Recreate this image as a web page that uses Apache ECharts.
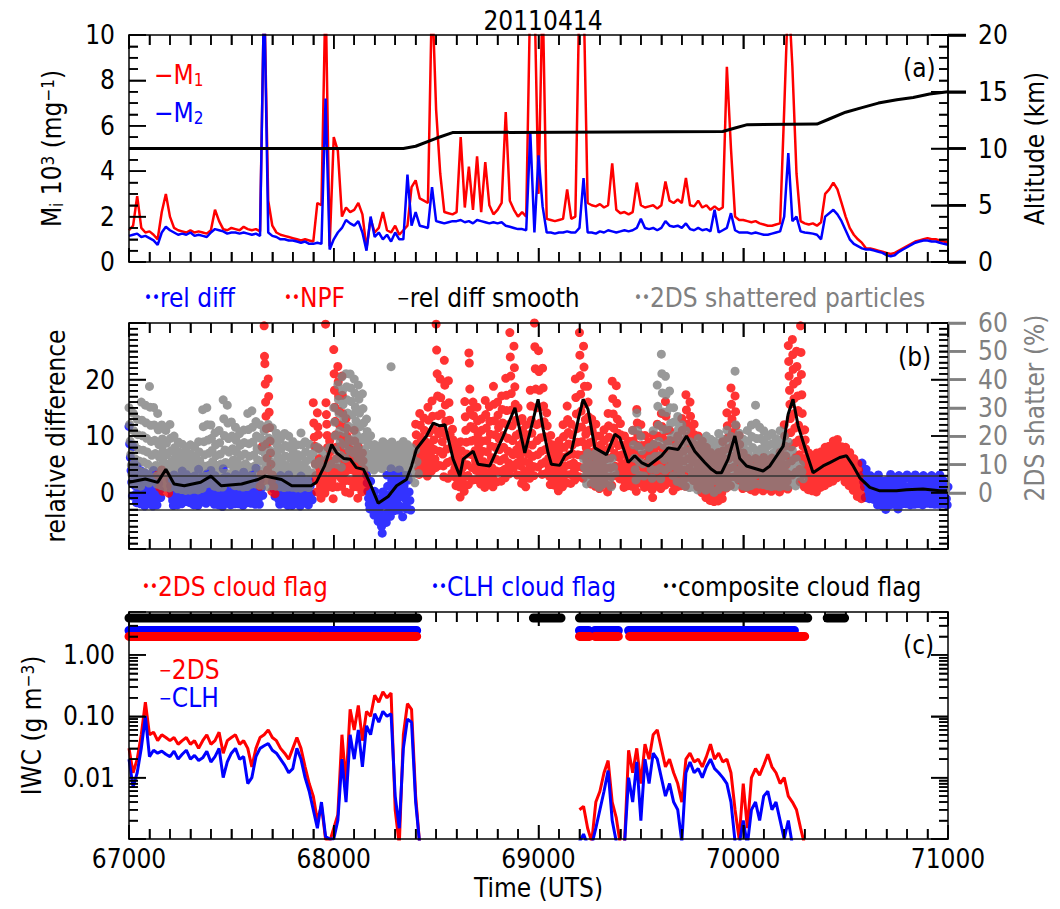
<!DOCTYPE html>
<html><head><meta charset="utf-8">
<script src="https://cdn.jsdelivr.net/npm/echarts@6/dist/echarts.min.js"></script>
<style>html,body{margin:0;padding:0;background:#fff}#c{width:1060px;height:909px}</style>
</head><body><div id="c"></div><script>
// ---------------- DATA ----------------
const titleText = '20110414';
const T0 = 67000, DT = 20;
const timeTicks = [67000, 68000, 69000, 70000, 71000];
const mTicks = [0, 2, 4, 6, 8, 10];
const altTicks = [0, 5, 10, 15, 20];
const relTicks = [0, 10, 20];
const relMajorTicks = [-10, 0, 10, 20, 30];
const shatterTicks = [0, 10, 20, 30, 40, 50, 60];
const iwcMajorTicks = [0.001, 0.01, 0.1, 1];
const iwcMinorTicks = [0.002,0.003,0.004,0.005,0.006,0.007,0.008,0.009,0.02,0.03,0.04,0.05,0.06,0.07,0.08,0.09,0.2,0.3,0.4,0.5,0.6,0.7,0.8,0.9,2,3,4];

const m1 = [1.4,1.6,2.9,1.5,1.3,1.35,1.2,1.0,2.2,3.0,2.0,1.5,1.4,1.35,1.3,1.4,1.3,1.35,1.3,1.25,
1.4,2.3,1.8,1.45,1.4,1.5,1.45,1.4,1.55,1.45,1.4,1.45,1.35,12,2.7,1.6,1.3,1.2,1.15,1.1,
1.05,1.0,0.95,1.0,0.95,0.9,2.6,2.5,12,0.7,5.5,4.9,2.0,2.4,2.2,2.3,2.6,2.1,0.6,1.9,
1.3,1.5,2.2,1.4,1.3,1.6,1.2,1.4,1.6,3.3,3.6,2.8,2.7,2.6,12,6.7,3.9,2.2,2.15,2.1,
2.2,5.5,2.4,4.2,2.3,4.65,2.2,4.4,2.5,2.1,2.3,2.6,6.6,2.7,2.3,2.0,2.2,2.0,12,12,
3.0,12,1.9,1.85,1.8,1.85,1.9,3.2,1.9,2.0,12,12,2.6,2.5,2.45,2.55,2.4,2.5,4.35,2.3,
2.15,2.2,2.1,2.2,3.5,2.5,2.4,2.45,2.5,2.35,2.5,3.55,2.7,2.6,2.75,2.6,3.7,2.5,2.45,2.7,
2.4,2.5,2.3,2.45,2.3,2.4,8.6,5.0,2.0,1.85,1.85,1.8,1.75,1.8,1.7,1.65,1.6,1.6,1.65,1.7,
6.7,12,8.6,3.9,1.8,1.7,1.65,1.7,1.6,1.75,3.0,3.2,3.5,3.2,2.6,2.0,1.5,1.2,1.0,0.84,
0.6,0.6,0.55,0.5,0.45,0.4,0.35,0.4,0.5,0.6,0.7,0.8,0.9,0.95,1.0,1.05,1.0,1.0,0.95,0.9,0.85];
const m2 = [1.15,1.2,1.25,1.1,1.15,1.05,0.95,0.75,1.3,1.55,1.4,1.3,1.2,1.25,1.2,1.3,1.15,1.2,1.15,1.1,
1.3,1.45,1.4,1.35,1.25,1.3,1.3,1.25,1.3,1.25,1.2,1.25,1.15,12,1.3,1.15,1.1,1.0,1.0,0.95,
0.95,0.9,0.85,0.9,0.8,0.8,0.85,0.8,7.2,0.55,1.0,1.3,1.5,1.85,1.7,1.6,1.8,1.3,0.5,2.0,
1.1,1.3,1.0,1.2,0.9,1.3,1.0,1.0,3.85,1.6,2.2,1.6,1.55,1.5,3.3,1.8,1.75,1.7,1.75,1.8,
1.8,1.85,1.75,1.8,1.7,1.85,1.8,1.75,1.7,1.75,1.7,1.75,1.6,1.55,1.5,1.45,1.45,1.4,5.7,1.3,
4.7,2.45,1.3,1.3,1.25,1.3,1.3,1.35,1.3,1.3,1.5,3.7,1.3,1.3,1.25,1.35,1.3,1.4,1.35,1.3,
1.35,1.4,1.35,1.4,1.5,1.9,1.5,1.45,1.5,1.4,1.5,1.8,1.6,1.55,1.6,1.5,1.7,1.45,1.4,1.5,
1.4,1.45,1.35,2.3,1.3,1.4,1.5,2.15,1.4,1.3,1.3,1.3,1.25,1.3,1.25,1.2,1.2,1.25,1.3,1.35,
2.0,4.8,1.8,2.0,1.35,1.3,1.28,1.25,1.2,1.0,2.0,2.15,2.3,2.1,1.8,1.4,1.0,0.8,0.7,0.6,
0.55,0.55,0.5,0.45,0.4,0.3,0.25,0.3,0.45,0.55,0.65,0.75,0.85,0.9,0.95,0.95,0.9,0.9,0.85,0.8,0.76];
const altTime = [67000,68340,68400,68500,68580,69900,69960,70020,70360,70420,70500,70580,70660,70750,70830,70910,71000];
const altKm   = [10.0,10.0,10.2,10.9,11.4,11.5,11.8,12.1,12.15,12.6,13.2,13.6,14.0,14.3,14.5,14.8,15.0];

const relDiffPts = [
[67000,[11.7,8.6,6.2,3.9,1.8,-0.6]],[67020,[8.1,5.4,3.0,1.2,-0.3,-1.8]],[67040,[4.6,3.0,1.7,0.5,-0.8,-2.0]],[67060,[3.8,2.3,1.0,-0.3,-1.4,-2.4]],
[67080,[3.4,2.2,1.3,0.2,-0.8,-1.9]],[67100,[2.6,1.6,0.7,-0.3,-1.4,-2.4]],[67120,[3.9,2.4,1.2,0.1,-1.3,-2.2]],[67140,[2.5,1.6,0.4,-0.9]],
[67200,[2.2,1.2,0.3,-0.6,-1.4,-2.3]],[67220,[3.1,2.0,1.2,0.3,-0.9,-2.2]],[67240,[2.6,1.4,0.5,-0.4,-1.1,-2.0]],[67260,[3.8,2.5,1.5,0.1,-0.7,-1.6]],
[67280,[3.2,2.4,1.3,0.4,-0.8,-1.8]],[67300,[2.7,1.8,1.0,0.1,-1.3,-2.2]],[67320,[2.9,1.5,0.6,-0.4,-1.2,-2.3]],[67340,[4.1,2.3,1.2,0.2,-0.6,-1.7]],
[67360,[2.8,2.1,1.1,0.5,-0.8,-1.9]],[67380,[3.3,2.2,1.4,0.2,-0.5,-1.2]],[67400,[3.9,2.3,1.0,0.0,-1.1,-2.1]],[67420,[3.0,2.1,1.3,-0.2,-1.4,-2.2]],
[67440,[2.4,1.6,0.8,-0.1,-1.2,-2.5]],[67460,[4.2,2.6,1.1,0.3,-0.6,-1.3]],[67480,[2.8,1.3,0.2,-0.7,-1.6,-2.2]],[67500,[2.2,1.5,1.0,-0.3,-1.2,-2.0]],
[67520,[3.2,2.2,1.1,0.3,-0.9,-2.0]],[67540,[2.4,1.1,0.1,-0.6,-1.5,-2.3]],[67560,[3.6,2.0,1.0,0.0,-1.0,-1.8]],[67580,[2.3,1.1,0.3,-0.2,-1.2,-1.9]],
[67600,[3.1,1.9,0.4,-0.4,-1.2,-2.1]],[67620,[4.3,2.2,1.2,0.2,-1.0,-2.1]],[67640,[2.1,0.8,-0.5]],[67700,[1.8,0.6,-0.7]],
[67720,[2.1,0.9,-0.2,-1.3,-2.1]],[67740,[3.0,1.1,0.1,-0.8,-1.9]],[67760,[2.2,1.3,0.3,-1.2,-2.3]],[67780,[3.1,2.2,0.8,-0.6,-2.3]],
[67800,[2.1,1.0,0.2,-1.2,-2.0]],[67820,[2.2,1.1,-0.1,-1.0,-2.4]],[67840,[2.9,1.2,0.3,-1.1,-1.8]],[67860,[2.0,0.9,-0.3,-1.4,-2.2]],[67880,[2.1,1.2,-0.2,-1.3]],
[68160,[3.1,1.7,0.2,-1.0,-2.1,-2.9]],[68180,[2.0,0.3,-1.2,-2.3,-3.1,-4.0]],[68200,[0.2,-1.4,-2.2,-3.3,-4.1,-5.1]],[68220,[-1.1,-2.6,-3.8,-5.1,-6.0,-7.2]],
[68240,[0.1,-1.3,-2.2,-3.9,-4.6,-5.3]],[68260,[3.1,1.1,-0.5,-2.0,-3.1,-4.2]],[68280,[4.2,2.1,0.6,-1.1,-2.2,-3.2]],[68300,[3.0,1.6,0.2,-1.2,-2.1,-3.1]],
[68320,[4.0,2.1,1.1,-0.7,-2.6,-4.3]],[68340,[3.1,1.2,0.1,-1.1,-2.2,-2.9]],[68360,[3.0,2.2,0.1,-1.4,-3.1]],
[70580,[5.2,3.1,1.9,1.0,-0.9]],[70600,[4.1,2.0,1.1,0.2,-1.1]],[70620,[3.0,2.2,0.9,0.1,-1.2]],[70640,[2.1,1.1,0.2,-1.0,-2.2]],
[70660,[3.1,1.0,0.2,-1.2,-2.3]],[70680,[2.0,1.2,0.1,-1.1,-3.0]],[70700,[2.1,1.0,-0.3,-1.1,-2.2]],[70720,[3.2,1.1,0.1,-1.0,-2.1]],
[70740,[2.0,0.9,0.2,-1.2,-2.9]],[70760,[3.0,1.1,0.2,-1.1,-2.0]],[70780,[2.2,1.1,0.1,-0.9,-2.0]],[70800,[3.1,1.0,0.2,-1.2,-2.2]],
[70820,[2.2,1.0,0.1,-0.9,-2.1]],[70840,[3.1,2.1,-0.1,-1.0,-2.0]],[70860,[2.0,1.1,0.2,-1.0,-2.2]],[70880,[3.0,1.2,0.1,-1.1,-1.9]],
[70900,[2.1,1.1,0.2,-1.0,-2.0]],[70920,[3.0,2.2,0.1,-1.2,-2.1]],[70940,[2.2,1.0,0.2,-1.0,-2.1]],[70960,[3.1,1.1,0.1,-1.0,-2.0]],
[70980,[2.0,1.1,0.2,-1.1,-2.2]],[71000,[1.0]]];

const npfPts = [
[67140,[3.1,0.9]],[67160,[4.0,0.2,2.1,1.0]],[67180,[3.2,1.1,-0.1]],
[67640,[1.1,3.2,8.1,2.0]],[67660,[29.5,24.1,22.8,19.2,16.0,13.5,11.3,8.6,6.1,4.0,2.2]],[67680,[20.1,17.0,14.2,11.5,9.1,7.0,5.0,2.1,0.2]],[67700,[3.1,1.0,-0.2]],
[67900,[15.9,12.3,9.8,8.2,5.1,3.0,2.1,0.1]],[67920,[14.1,11.6,10.2,7.8,6.0,4.2,3.1,1.0,-1.0]],[67940,[5.2,4.0,3.0,2.0,1.1,-0.1]],
[67960,[29.8,15.9,13.8,12.1,10.1,8.0,6.0,4.1,2.5,1.0]],[67980,[9.1,7.2,5.0,3.6,2.1,0.9,-1.1]],
[68000,[25.3,21.0,18.1,15.1,12.6,10.2,8.0,6.0,4.4,3.1,1.0]],[68020,[22.3,19.6,17.1,14.4,12.0,10.0,8.1,6.1,4.0,2.5,1.1]],
[68040,[20.6,17.2,14.0,11.6,9.1,7.0,5.0,3.5,2.1,0.1]],[68060,[13.1,11.4,10.0,8.5,7.1,5.6,4.0,2.1,-0.1]],
[68080,[9.2,7.6,6.1,5.0,4.0,2.1,1.0]],[68100,[11.0,9.1,7.1,6.0,5.0,3.1,1.0,-1.0]],[68120,[8.1,7.0,6.0,4.1,3.0,2.0,0.1]],[68140,[7.0,5.6,4.1,3.0,2.0,1.1]],
[68400,[12.1,10.2,8.6,7.0,5.6,4.3,3.2]],[68420,[14.0,11.9,9.7,7.9,6.4,4.9,3.6]],[68440,[13.2,11.0,9.1,7.5,6.0,4.5,2.9]],
[68460,[15.1,12.8,10.6,8.4,6.7,5.2,3.8]],[68480,[16.2,13.5,11.2,9.3,7.6,5.9,4.4]],[68500,[29.8,25.2,21.0,17.1,13.6,10.4,7.3,4.8]],
[68520,[20.1,16.8,13.9,11.3,9.0,6.8,4.7,2.8]],[68540,[23.4,19.0,15.5,12.6,10.1,7.7,5.3,2.5]],[68560,[19.8,15.9,12.8,10.2,7.9,5.6,3.4]],
[68580,[11.2,9.3,7.6,5.9,4.3,2.7,1.2]],[68600,[8.1,6.5,5.1,3.7,2.4,1.0,-0.8]],[68620,[9.0,7.4,5.8,4.4,3.0,1.6,0.2]],
[68640,[16.1,13.4,11.0,8.9,6.8,4.9,3.0,1.4]],[68660,[24.7,22.9,18.3,14.6,11.7,9.1,6.7,4.4,2.2]],[68680,[16.0,13.6,11.3,9.3,7.4,5.6,3.9,2.3]],
[68700,[15.1,12.7,10.4,8.4,6.5,4.7,3.0,1.5]],[68720,[13.0,11.0,9.1,7.3,5.5,3.8,2.2,0.9]],[68740,[16.3,13.8,11.4,9.2,7.2,5.1,3.3,1.7]],
[68760,[15.2,12.6,10.3,8.2,6.2,4.4,2.6,1.0]],[68780,[18.8,15.6,12.7,10.2,8.0,5.9,3.8,1.9]],[68800,[16.0,13.7,11.5,9.5,7.6,5.6,3.7,2.0]],
[68820,[17.1,14.7,12.3,10.1,8.0,6.0,4.1,2.6]],[68840,[20.2,17.2,14.5,12.0,9.6,7.3,5.2,3.3]],[68860,[28.3,24.0,20.6,17.5,14.6,11.8,9.2,6.7,4.4]],
[68880,[25.9,22.1,18.7,15.6,12.8,10.1,7.6,5.2,3.1]],[68900,[15.0,12.6,10.4,8.4,6.5,4.7,3.0,1.6]],[68920,[13.1,11.0,9.0,7.2,5.5,3.9,2.4,1.0]],
[68940,[12.0,10.2,8.5,6.9,5.3,3.8,2.5]],[68960,[18.1,15.3,12.8,10.5,8.4,6.4,4.6,3.0]],[68980,[30.0,25.8,21.9,18.3,15.0,12.0,9.2,6.7,4.5]],
[69000,[25.1,21.4,18.1,15.1,12.3,9.7,7.3,5.1,3.2]],[69020,[22.0,18.5,15.3,12.5,9.9,7.6,5.5,3.4]],[69040,[14.1,11.8,9.8,7.9,6.1,4.4,2.8,1.4]],
[69060,[10.1,8.5,7.0,5.5,4.1,2.7,1.3]],[69080,[8.0,6.7,5.4,4.1,2.9,1.6,0.3]],[69100,[9.1,7.6,6.2,4.8,3.5,2.2,1.0]],
[69120,[12.0,9.9,8.0,6.3,4.7,3.2,1.7]],[69140,[15.3,12.9,10.6,8.6,6.7,4.9,3.2,1.6]],[69160,[12.1,10.2,8.4,6.8,5.2,3.7,2.2]],
[69180,[20.1,16.8,13.9,11.3,8.9,6.7,4.6,2.8]],[69200,[28.3,24.3,20.7,17.4,14.4,11.6,9.0,6.6,4.4,2.5]],[69220,[25.9,22.2,18.8,15.7,12.9,10.3,7.9,5.7,3.6]],
[69240,[18.8,16.0,13.4,11.0,8.8,6.8,4.9,3.1,1.5]],[69260,[13.0,10.9,9.0,7.2,5.6,4.0,2.5,1.1]],[69280,[12.1,10.0,8.2,6.5,4.9,3.4,2.0,0.7]],
[69300,[10.0,8.4,6.9,5.5,4.1,2.8,1.5]],[69320,[11.1,9.2,7.5,5.9,4.3,2.8,1.3,0.1]],[69340,[14.0,11.8,9.8,7.9,6.1,4.4,2.8,1.3]],
[69360,[19.7,16.6,13.9,11.4,9.1,6.9,4.9,3.0]],[69380,[18.9,15.8,13.0,10.5,8.3,6.2,4.2,2.4]],[69400,[12.2,10.2,8.4,6.7,5.1,3.6,2.2,0.9]],
[69420,[10.0,8.3,6.8,5.3,3.9,2.5,1.2]],[69440,[9.1,7.6,6.2,4.9,3.6,2.4,1.1]],[69460,[11.0,9.1,7.4,5.8,4.3,2.8,1.4,0.2]],
[69480,[14.7,12.3,10.2,8.3,6.5,4.8,3.2,1.7]],[69500,[12.0,10.1,8.3,6.7,5.1,3.6,2.2,0.9]],[69520,[10.1,8.4,6.8,5.3,3.9,2.5,1.1]],
[69540,[9.0,7.4,5.9,4.5,3.1,1.8,0.5,-0.9]],[69560,[10.2,8.5,6.9,5.4,3.9,2.5,1.1]],[69580,[12.1,10.0,8.2,6.5,4.9,3.4,2.0,0.7]],
[69600,[14.0,11.7,9.7,7.8,6.0,4.4,2.8,1.3]],[69620,[16.1,13.5,11.2,9.1,7.1,5.3,3.6,2.0]],[69640,[11.0,9.2,7.5,5.9,4.4,3.0,1.6,0.3]],
[69660,[9.1,7.6,6.2,4.9,3.6,2.3,1.0]],[69680,[10.0,8.3,6.8,5.3,3.9,2.5,1.2]],[69700,[13.1,11.0,9.1,7.3,5.6,4.0,2.5,1.1]],
[69720,[17.3,14.6,12.1,9.9,7.9,6.0,4.3,2.7]],[69740,[16.0,13.5,11.2,9.1,7.2,5.4,3.7,2.1]],[69760,[12.1,10.2,8.4,6.8,5.2,3.7,2.3,1.0]],
[69780,[10.0,8.3,6.8,5.3,3.9,2.5,1.2,0.0]],[69800,[9.1,7.5,6.0,4.6,3.2,1.9,0.6,-0.9]],[69820,[8.0,6.5,5.1,3.8,2.5,1.2,0.0,-1.4]],
[69840,[7.1,5.8,4.5,3.3,2.1,0.9,-0.3,-1.6]],[69860,[6.0,4.9,3.8,2.7,1.6,0.5,-0.6,-1.5]],[69880,[7.1,5.8,4.6,3.4,2.2,1.0,-0.1,-1.1]],
[69900,[9.0,7.4,6.0,4.6,3.3,2.0,0.8]],[69920,[14.1,11.8,9.7,7.8,6.0,4.3,2.7,1.2]],[69940,[18.5,15.6,13.0,10.6,8.4,6.4,4.5,2.8]],
[69960,[17.1,14.3,11.8,9.6,7.5,5.6,3.8,2.2]],[69980,[10.1,8.5,7.0,5.6,4.3,3.0,1.8,0.7]],[70000,[7.0,5.9,4.9,3.9,2.9,1.9,0.9]],
[70020,[6.1,5.1,4.2,3.2,2.3,1.4,0.5]],[70040,[5.0,4.2,3.4,2.6,1.8,1.0,0.2]],[70060,[6.0,5.0,4.1,3.2,2.3,1.4,0.6]],
[70080,[5.1,4.3,3.5,2.7,1.9,1.1,0.3]],[70100,[6.2,5.2,4.2,3.3,2.4,1.5,0.7]],[70120,[5.0,4.2,3.4,2.6,1.8,1.0,0.2]],
[70140,[6.1,5.1,4.2,3.3,2.4,1.5,0.6]],[70160,[5.0,4.2,3.3,2.5,1.7,0.9,0.1]],[70180,[7.1,5.9,4.8,3.7,2.7,1.7,0.8]],
[70200,[12.0,10.0,8.2,6.5,4.9,3.4,2.0,0.6]],[70220,[26.0,23.2,20.6,18.1,15.6,13.1,10.6,8.1,5.6,3.1]],[70240,[27.1,24.4,21.8,19.2,16.6,14.0,11.4,8.8,6.2,3.6]],
[70260,[25.0,22.3,19.7,17.1,14.5,11.9,9.3,6.7,4.1,1.9]],[70280,[29.5,24.8,20.9,17.3,14.0,11.0,8.2,5.6,3.2,1.0]],[70300,[11.1,9.3,7.7,6.1,4.6,3.2,1.8,0.5]],
[70320,[7.0,5.8,4.7,3.6,2.5,1.4,0.3]],[70340,[6.1,5.1,4.1,3.1,2.1,1.1,0.1]],[70360,[7.0,5.9,4.8,3.8,2.8,1.8,0.9]],
[70380,[7.2,6.1,5.1,4.1,3.1,2.1,1.2]],[70400,[8.0,6.9,5.8,4.7,3.7,2.7,1.7]],[70420,[8.2,7.1,6.0,5.0,4.0,3.0,2.0]],
[70440,[9.1,7.9,6.8,5.7,4.6,3.6,2.6]],[70460,[9.4,8.2,7.1,6.0,4.9,3.9,2.9]],[70480,[8.1,7.0,5.9,4.9,3.9,2.9,1.9]],
[70500,[8.0,6.8,5.6,4.5,3.4,2.3,1.2]],[70520,[7.1,5.9,4.8,3.7,2.6,1.5,0.4]],[70540,[6.0,4.9,3.8,2.7,1.6,0.5,-0.7]],[70560,[5.1,4.0,2.9,1.8,0.7,-0.4,-1.1]]];

const shatterPts = [
[67000,[30.1,24.2,18.3,13.6,9.8,6.5,3.6]],[67020,[28.2,22.0,16.9,12.1,8.7,5.4,2.8]],[67040,[26.0,20.6,15.4,11.3,7.8,4.9,2.4]],
[67060,[32.1,25.7,20.2,15.1,10.9,7.3,4.1]],[67080,[31.0,24.8,19.3,14.5,10.2,6.6,3.5]],[67100,[37.6,30.3,23.9,18.2,13.3,9.1,5.2]],
[67120,[30.2,24.0,18.6,13.9,9.7,6.0,3.1]],[67140,[28.1,22.3,17.1,12.6,8.7,5.3,2.6]],[67160,[24.0,19.1,14.8,10.9,7.5,4.6,2.1]],
[67180,[22.1,17.6,13.5,9.9,6.8,4.0,1.8]],[67200,[24.2,19.3,14.9,11.0,7.6,4.7,2.3]],[67220,[20.1,16.0,12.3,9.1,6.2,3.7,1.5]],
[67240,[18.0,14.4,11.1,8.2,5.6,3.3,1.2]],[67260,[17.2,13.7,10.6,7.8,5.3,3.1,0.9]],[67280,[15.1,12.1,9.4,6.9,4.7,2.7,1.0]],
[67300,[17.0,13.6,10.5,7.7,5.2,3.0,1.3]],[67320,[16.2,12.9,10.0,7.4,5.1,3.0,1.1]],[67340,[18.1,14.5,11.2,8.3,5.7,3.4,1.6]],
[67360,[29.4,23.4,18.1,13.5,9.4,5.9,3.2]],[67380,[30.1,24.1,18.7,14.0,9.8,6.2,3.4]],[67400,[24.0,19.3,15.0,11.1,7.7,4.8,2.4]],
[67420,[21.2,17.0,13.2,9.8,6.8,4.2,2.0]],[67440,[22.1,17.7,13.7,10.2,7.1,4.4,2.1]],[67460,[32.9,26.2,20.3,15.2,10.8,7.0,3.8]],
[67480,[31.0,24.7,19.2,14.4,10.2,6.6,3.5]],[67500,[25.1,20.1,15.6,11.6,8.1,5.1,2.6]],[67520,[23.2,18.6,14.4,10.7,7.5,4.7,2.4]],
[67540,[21.0,16.8,13.0,9.7,6.8,4.2,2.1]],[67560,[22.2,17.8,13.8,10.3,7.2,4.5,2.3]],[67580,[28.1,22.4,17.4,13.0,9.1,5.8,3.1]],
[67600,[29.0,23.2,18.0,13.4,9.4,6.0,3.2]],[67620,[25.2,20.1,15.6,11.7,8.2,5.2,2.7]],[67640,[24.1,19.3,15.0,11.2,7.9,5.0,2.6]],
[67660,[22.0,17.6,13.7,10.2,7.1,4.5,2.3]],[67680,[24.2,19.4,15.1,11.3,7.9,5.0,2.6]],[67700,[23.0,18.4,14.3,10.7,7.5,4.7,2.4]],
[67720,[21.1,16.9,13.1,9.8,6.8,4.3,2.2]],[67740,[19.2,15.4,11.9,8.9,6.2,3.9,1.9]],[67760,[21.0,16.8,13.0,9.7,6.8,4.3,2.1]],
[67780,[20.1,16.1,12.5,9.3,6.5,4.1,2.0]],[67800,[18.2,14.6,11.3,8.4,5.9,3.7,1.8]],[67820,[17.0,13.6,10.6,7.9,5.5,3.4,1.7]],
[67840,[21.2,17.0,13.2,9.8,6.9,4.3,2.2]],[67860,[18.1,14.5,11.3,8.4,5.9,3.7,1.9]],[67880,[17.2,12.0,7.1]],
[67900,[14.1,10.0]],[67920,[16.2,11.1]],[67940,[15.0,9.2]],[67960,[13.1,9.0]],[67980,[16.0,10.2]],
[68000,[30.1,25.0,20.2,15.2,12.0,10.1]],[68020,[38.2,33.0,28.1,22.0,17.9,13.2,9.1]],[68040,[41.0,36.1,31.2,26.3,21.4,16.8,12.2]],
[68060,[42.1,37.5,32.9,28.2,23.6,19.0,15.0]],[68080,[42.0,37.1,32.3,27.6,22.8,18.1,14.1]],[68100,[40.2,35.2,30.3,25.4,20.6,16.0,12.2]],
[68120,[38.1,33.1,28.2,23.4,18.7,14.5,11.0]],[68140,[35.0,29.8,24.7,19.8,15.4,12.0,9.1]],[68160,[26.1,21.7,17.4,13.2,10.6,9.0]],
[68180,[20.2,17.0,14.1,11.0,8.1]],[68200,[17.1,14.6,12.0,9.3]],[68220,[16.0,13.3,10.8,8.6]],[68240,[18.1,15.2,12.4,9.8]],
[68260,[17.2,14.4,11.6,9.0]],[68280,[44.6,18.0,15.1,12.2,9.3]],[68300,[16.1,13.5,11.0,8.7]],[68320,[17.0,14.3,11.6,9.0]],
[68340,[18.2,15.0,12.0,9.2,7.0]],[68360,[17.1,14.0,11.1,8.3,5.6]],[68380,[16.0,12.9,10.0,6.8,3.6]],[68400,[15.1,11.0,6.9]],
[69220,[12.1,9.0,6.1,3.2]],[69240,[14.0,10.6,7.3,4.0]],[69260,[13.2,9.9,6.5,3.1]],[69280,[14.1,10.9,7.6,4.7,2.0]],[69300,[12.0,8.9,6.0,3.1]],
[69320,[13.1,9.8,6.9,4.2]],[69340,[11.0,7.9,5.0,2.2]],[69360,[12.2,9.1,7.0]],
[69460,[22.1,17.0,12.3,8.2,4.6]],[69480,[28.2,22.1,16.3,11.0,6.2]],[69500,[20.0,15.0,10.3,6.0]],
[69540,[16.1,12.0,8.4,5.2]],[69560,[22.0,17.3,12.9,8.1]],[69580,[38.1,30.6,23.9,18.2,13.1,8.7,5.0]],
[69600,[49.0,42.1,35.3,28.6,22.4,16.8,11.8,8.0]],[69620,[41.2,34.6,28.4,22.7,17.5,12.9,9.0]],[69640,[36.0,30.1,24.6,19.6,15.1,11.0,6.1]],
[69660,[30.1,25.1,20.5,16.3,12.5,9.0,4.1]],[69680,[27.0,22.4,18.2,14.4,10.9,7.0,3.5]],[69700,[24.1,20.0,16.2,12.7,9.6,5.1,2.4]],
[69720,[22.0,18.2,14.7,11.5,8.6,4.2,1.9]],[69740,[18.1,15.0,12.0,9.2,6.6,4.2,2.1]],[69760,[17.0,14.1,11.2,8.5,6.0,3.6,1.1]],
[69780,[19.2,15.9,12.8,9.9,7.2,4.6,2.2]],[69800,[18.0,14.9,11.9,9.1,6.5,4.0,1.0]],[69820,[20.1,16.6,13.4,10.3,7.5,4.8,2.3]],
[69840,[19.0,15.7,12.6,9.7,6.9,4.3,0.2]],[69860,[18.2,15.1,12.1,9.2,6.6,4.1,1.2]],[69880,[21.0,17.4,14.0,10.8,7.8,5.0,2.2]],
[69900,[19.1,15.8,12.7,9.8,7.0,4.4,2.0]],[69920,[22.2,18.4,14.8,11.4,8.3,5.4,2.6]],[69940,[20.0,16.6,13.4,10.3,7.5,4.8,2.2]],
[69960,[43.0,24.1,19.6,15.4,11.6,8.1,5.0]],[69980,[21.1,17.5,14.1,10.9,7.9,5.1,2.5]],[70000,[19.0,15.8,12.7,9.8,7.1,4.5,2.1]],
[70020,[22.1,18.3,14.8,11.5,8.4,5.4,2.6]],[70040,[24.0,19.9,16.1,12.5,9.2,6.1,3.2]],[70060,[31.0,24.6,19.2,14.6,10.6,7.0,3.1]],
[70080,[23.2,19.2,15.5,12.0,8.8,5.8,3.0]],[70100,[22.0,18.2,14.7,11.4,8.3,5.4,2.6]],[70120,[20.1,16.7,13.4,10.4,7.6,4.9,2.3]],
[70140,[21.0,17.4,14.0,10.9,7.9,5.1,2.5]],[70160,[19.2,15.9,12.8,9.9,7.2,4.6,2.2]],[70180,[22.0,18.2,14.7,11.4,8.3,5.4,2.6]],
[70200,[20.2,16.7,13.5,10.4,7.6,4.9,2.3]],[70220,[18.0,14.1,10.6,7.0,3.8]],[70240,[15.1,11.7,8.6,5.2,2.5]],[70260,[12.0,9.1,7.1]],[70280,[10.1,7.5,5.0]]];

const smoothPts = [[67000,1.8],[67080,2.4],[67140,1.8],[67180,4.1],[67220,1.5],[67270,1.2],[67350,1.8],[67400,2.9],[67450,1.2],
[67550,1.5],[67630,2.3],[67665,2.9],[67745,2.3],[67795,1.2],[67890,1.2],[67915,1.8],[67955,4.7],[67990,8.5],[68015,7.0],
[68050,6.0],[68080,5.9],[68110,4.4],[68145,4.1],[68175,1.8],[68217,-1.9],[68266,-0.7],[68307,1.2],[68355,2.3],[68380,4.7],
[68404,7.7],[68453,10.0],[68486,12.3],[68518,11.8],[68543,12.0],[68583,5.9],[68616,2.9],[68632,5.9],[68681,7.3],[68705,5.0],
[68762,4.7],[68828,10.0],[68885,15.0],[68933,7.0],[68974,12.9],[68998,16.5],[69023,11.2],[69047,7.0],[69063,5.0],[69104,4.8],
[69129,6.5],[69161,7.3],[69194,12.9],[69218,16.5],[69242,14.7],[69275,7.9],[69332,6.7],[69373,10.3],[69397,9.7],[69438,5.3],
[69470,6.5],[69503,5.3],[69536,4.7],[69601,6.5],[69633,7.9],[69682,7.6],[69723,10.0],[69763,7.3],[69812,5.3],[69845,4.1],
[69869,3.5],[69894,3.5],[69926,5.9],[69959,10.0],[69983,6.0],[70016,4.7],[70097,3.8],[70130,4.7],[70195,8.2],[70219,13.8],
[70243,16.5],[70268,11.8],[70309,7.0],[70341,3.5],[70390,4.7],[70423,5.3],[70471,6.2],[70504,6.5],[70537,4.7],[70569,2.6],
[70618,0.9],[70667,0.3],[70748,0.3],[70797,0.5],[70878,0.6],[70960,0.3],[71000,0.3]];
const refLines = [3, -3];

const iwcSegStart = [67000, 69200];
const iwc2DS = [
[0.03,0.012,0.02,0.05,0.17,0.05,0.055,0.04,0.05,0.045,0.04,0.045,0.035,0.04,0.045,0.035,0.04,0.03,0.04,0.05,
0.035,0.04,0.055,0.025,0.04,0.045,0.05,0.035,0.04,0.03,0.015,0.03,0.045,0.05,0.06,0.045,0.04,0.03,0.025,0.02,
0.03,0.045,0.03,0.015,0.008,0.005,0.002,0.0035,0.001,0.0009,0.0015,0.0025,0.05,0.008,0.13,0.06,0.15,0.04,0.12,0.1,
0.22,0.17,0.25,0.2,0.24,0.003,0.0008,0.05,0.16,0.13,0.005,0.0008],
[0.003,0.0034,0.0015,0.0009,0.004,0.006,0.012,0.019,0.004,0.0022,0.0008,0.0008,0.028,0.012,0.03,0.008,0.035,0.02,0.05,0.06,
0.03,0.015,0.02,0.012,0.008,0.004,0.02,0.025,0.018,0.02,0.015,0.022,0.035,0.02,0.025,0.018,0.02,0.012,0.003,0.001,
0.008,0.0015,0.01,0.014,0.011,0.016,0.024,0.015,0.012,0.008,0.01,0.005,0.004,0.003,0.0015,0.0008]];
const iwcCLH = [
[0.02,0.007,0.012,0.03,0.1,0.022,0.028,0.025,0.027,0.024,0.022,0.027,0.02,0.024,0.028,0.02,0.023,0.019,0.021,0.027,
0.018,0.022,0.03,0.01,0.018,0.025,0.03,0.02,0.022,0.008,0.01,0.022,0.03,0.033,0.036,0.028,0.025,0.02,0.016,0.012,
0.014,0.03,0.02,0.01,0.006,0.003,0.0015,0.004,0.0011,0.001,0.001,0.002,0.02,0.004,0.05,0.02,0.06,0.015,0.07,0.05,
0.11,0.08,0.12,0.1,0.11,0.005,0.0015,0.03,0.09,0.08,0.004,0.0008],
[0.0009,0.0012,0.0008,0.0008,0.0015,0.003,0.006,0.013,0.002,0.0009,0.0008,0.0008,0.01,0.004,0.018,0.002,0.02,0.008,0.025,0.02,
0.01,0.005,0.008,0.004,0.003,0.0009,0.012,0.018,0.012,0.014,0.01,0.015,0.02,0.014,0.012,0.01,0.008,0.004,0.0009,0.0008,
0.002,0.0008,0.003,0.004,0.002,0.005,0.006,0.003,0.004,0.002,0.001,0.002,0.0008,0.0008,0.0008,0.0008]];
const flag2DS = [[67000,67925],[67940,68405],[69200,69250],[69275,69390],[69445,70300]];
const flagCLH = [[67000,68405],[69200,69245],[69275,69390],[69440,70250]];
const flagComposite = [[67000,68410],[68975,69110],[69200,69400],[69410,70315],[70410,70495]];
const flagLevel2DS = 2, flagLevelCLH = 2.5, flagLevelComposite = 4;

// ---------------- BUILD ----------------
const FONT = '"DejaVu Sans Condensed", "DejaVu Sans", sans-serif';
const RED = '#ff0000', BLUE = '#0000ff', GRAY = '#808080', BLACK = '#000000';
const onGrid = arr => arr.map((v, i) => [T0 + i * DT, v]);
const expand = pts => { const out = []; pts.forEach(([t, vs]) => vs.forEach((v, k) => out.push([t + k * DT / vs.length, v]))); return out; };
const pairs = (xs, ys) => xs.map((x, i) => [x, ys[i]]);
const segLine = (segs, lvl) => { const out = []; segs.forEach(([a, b]) => { out.push([a, lvl], [b, lvl], [b, '-']); }); return out; };
const iwcLine = segs => { const out = []; segs.forEach((arr, s) => { arr.forEach((v, i) => out.push([iwcSegStart[s] + i * DT, v])); out.push([iwcSegStart[s] + arr.length * DT, '-']); }); return out; };
function merge(a, b) { for (const k in b) { if (b[k] && typeof b[k] === 'object' && !Array.isArray(b[k]) && a[k] && typeof a[k] === 'object' && !Array.isArray(a[k])) merge(a[k], b[k]); else a[k] = b[k]; } return a; }
function ax(extra) {
  return merge({
    type: 'value', z: 10,
    axisLine: { show: true, onZero: false, lineStyle: { color: BLACK, width: 1.5 } },
    axisTick: { show: true, inside: true, length: 17, lineStyle: { color: BLACK, width: 1.5, opacity: 1 } },
    minorTick: { show: false, length: 9, lineStyle: { color: BLACK, width: 1.5, opacity: 1 } },
    splitLine: { show: false }, minorSplitLine: { show: false },
    axisLabel: { show: false, fontFamily: FONT, fontSize: 26, color: BLACK }
  }, extra);
}
const RICH_NAME = { t: { fontFamily: FONT, fontSize: 26, color: BLACK }, sub: { fontFamily: FONT, fontSize: 17, color: BLACK, verticalAlign: 'bottom' }, sup: { fontFamily: FONT, fontSize: 17, color: BLACK, verticalAlign: 'top' } };
const NTS = (extra) => merge({ fontFamily: FONT, fontSize: 26, color: BLACK }, extra || {});

const xAxes = [];
[0, 1, 2].forEach(g => {
  const common = () => ({ gridIndex: g, min: 67000, max: 71000, interval: 1000, axisTick: { length: 14 }, minorTick: { show: true, splitNumber: 10, length: 10 } });
  const bottom = ax(merge(common(), { position: 'bottom' }));
  if (g === 2) merge(bottom, { axisLabel: { show: true, margin: 7, customValues: timeTicks, formatter: v => String(v) }, name: 'Time (UTS)', nameLocation: 'middle', nameGap: 36, nameTextStyle: NTS() });
  xAxes.push(bottom);
  xAxes.push(ax(merge(common(), { position: 'top' })));
});
xAxes.push({ type: 'value', gridIndex: 3, min: 67000, max: 71000, show: false });
const fmtIWC = v => (v >= 0.005 && v <= 1.01) ? v.toFixed(2) : '';
const yAxes = [
  ax({ gridIndex: 0, position: 'left', min: 0, max: 10, interval: 2, minorTick: { show: true, splitNumber: 4 }, axisLabel: { show: true, margin: 14, customValues: mTicks },
       name: '{t|M}{sub|i}{t| 10}{sup|3}{t| (mg}{sup|−1}{t|)}', nameLocation: 'middle', nameGap: 64, nameRotate: 90, nameTextStyle: NTS({ rich: RICH_NAME }) }),
  ax({ gridIndex: 0, position: 'right', min: 0, max: 20, interval: 5, axisTick: { inside: false, length: 18, lineStyle: { width: 2.5 } },
       axisLabel: { show: true, margin: 30, customValues: altTicks },
       name: 'Altitude (km)', nameLocation: 'middle', nameGap: 74, nameRotate: 90, nameTextStyle: NTS() }),
  ax({ gridIndex: 0, position: 'right', min: 0, max: 20, interval: 5, minorTick: { show: true, splitNumber: 5 } }),
  ax({ gridIndex: 1, position: 'left', min: -10, max: 30, interval: 10, minorTick: { show: true, splitNumber: 10 }, axisLabel: { show: true, margin: 14, customValues: relTicks },
       name: 'relative difference', nameLocation: 'middle', nameGap: 60, nameRotate: 90, nameTextStyle: NTS() }),
  ax({ gridIndex: 1, position: 'right', min: -10, max: 30, interval: 10, minorTick: { show: true, splitNumber: 10 } }),
  ax({ type: 'log', logBase: 10, gridIndex: 2, position: 'left', min: 0.001, max: 5, axisLabel: { show: true, margin: 14, formatter: fmtIWC },
       name: '{t|IWC (g m}{sup|−3}{t|)}', nameLocation: 'middle', nameGap: 84, nameRotate: 90, nameTextStyle: NTS({ rich: RICH_NAME }) }),
  ax({ type: 'log', logBase: 10, gridIndex: 2, position: 'left', min: 0.001, max: 5, axisLine: { show: false }, axisTick: { length: 9, customValues: iwcMinorTicks } }),
  ax({ type: 'log', logBase: 10, gridIndex: 2, position: 'right', min: 0.001, max: 5 }),
  ax({ type: 'log', logBase: 10, gridIndex: 2, position: 'right', min: 0.001, max: 5, axisLine: { show: false }, axisTick: { length: 9, customValues: iwcMinorTicks } }),
  ax({ gridIndex: 3, position: 'right', min: 0, max: 60, interval: 10,
       axisLine: { lineStyle: { color: GRAY, width: 2.5 } }, axisTick: { inside: false, length: 18, lineStyle: { color: GRAY, width: 2.5 } },
       axisLabel: { show: true, margin: 30, color: GRAY, customValues: shatterTicks },
       name: '2DS shatter (%)', nameLocation: 'middle', nameGap: 74, nameRotate: 90, nameTextStyle: NTS({ color: GRAY }) })
];

// tick marks drawn through the axes' own coordinate mapping (custom series)
const XMAJ = 14, XMIN = 10, YMAJ = 17, YMIN = 9, OUT = 18;
const stepVals = (a, b, s) => { const o = []; for (let i = 0; a + i * s <= b + 1e-9; i++) o.push(+(a + i * s).toFixed(6)); return o; };
const notIn = (arr, ex) => arr.filter(v => !ex.some(e => Math.abs(e - v) < 1e-9));
const xMinorVals = notIn(stepVals(67000, 71000, 100), timeTicks);
function xTickItems(yb, yt) {
  const o = [];
  timeTicks.forEach(v => o.push([v, yb, 0, -XMAJ, 1.5], [v, yt, 0, XMAJ, 1.5]));
  xMinorVals.forEach(v => o.push([v, yb, 0, -XMIN, 1.5], [v, yt, 0, XMIN, 1.5]));
  return o;
}
function yTickItems(major, minor, left, right) {
  const o = [];
  major.forEach(v => { if (left) o.push([67000, v, YMAJ, 0, 1.5]); if (right) o.push([71000, v, -YMAJ, 0, 1.5]); });
  minor.forEach(v => { if (left) o.push([67000, v, YMIN, 0, 1.5]); if (right) o.push([71000, v, -YMIN, 0, 1.5]); });
  return o;
}
const tickRender = color => (params, api) => {
  const p = api.coord([api.value(0), api.value(1)]);
  return { type: 'line', silent: true, shape: { x1: p[0], y1: p[1], x2: p[0] + api.value(2), y2: p[1] + api.value(3) }, style: { stroke: color, lineWidth: api.value(4) } };
};
const tickS = (data, xi, yi, color) => ({ type: 'custom', data, xAxisIndex: xi, yAxisIndex: yi, renderItem: tickRender(color), clip: false, silent: true, z: 20, animation: false, encode: { x: 0, y: 1 } });
const tickSeries = [
  tickS(xTickItems(0, 10).concat(yTickItems(mTicks, notIn(stepVals(0, 10, 0.5), mTicks), true, false)), 0, 0, BLACK),
  tickS(yTickItems(altTicks, notIn(stepVals(0, 20, 1), altTicks), false, true).concat(altTicks.map(v => [71000, v, OUT, 0, 2.5])), 0, 1, BLACK),
  tickS(xTickItems(-10, 30).concat(yTickItems(relMajorTicks, notIn(stepVals(-10, 30, 1), relMajorTicks), true, true)), 2, 3, BLACK),
  tickS(shatterTicks.map(v => [71000, v, OUT, 0, 2.5]), 6, 9, GRAY),
  tickS(xTickItems(0.001, 5).concat(yTickItems(iwcMajorTicks, iwcMinorTicks, true, true)), 4, 5, BLACK)
];

const lineS = (name, data, xi, yi, color, w, z, extra) => merge({ name, type: 'line', data, xAxisIndex: xi, yAxisIndex: yi, showSymbol: false, symbol: 'none',
  lineStyle: { color, width: w }, itemStyle: { color }, z, clip: true, connectNulls: false, animation: false }, extra || {});
const scatS = (name, data, color, xi, yi, z) => ({ name, type: 'scatter', data, xAxisIndex: xi, yAxisIndex: yi, symbolSize: 9,
  large: true, largeThreshold: 1, itemStyle: { color }, z, clip: true, animation: false });
const series = [
  lineS('M1', onGrid(m1), 0, 0, RED, 2.5, 2),
  lineS('M2', onGrid(m2), 0, 0, BLUE, 2.5, 3),
  lineS('Altitude', pairs(altTime, altKm), 0, 1, BLACK, 3, 4),
  scatS('rel diff', expand(relDiffPts), BLUE, 2, 3, 2),
  scatS('NPF', expand(npfPts), RED, 2, 3, 3),
  scatS('2DS shattered particles', expand(shatterPts), GRAY, 6, 9, 4),
  lineS('rel diff smooth', smoothPts, 2, 3, BLACK, 3, 6, {
    markLine: { silent: true, symbol: 'none', label: { show: false }, lineStyle: { color: '#333', width: 1.5, type: 'solid' }, data: refLines.map(v => ({ yAxis: v })) } }),
  lineS('2DS', iwcLine(iwc2DS), 4, 5, RED, 3, 2),
  lineS('CLH', iwcLine(iwcCLH), 4, 5, BLUE, 3, 3),
  lineS('composite cloud flag', segLine(flagComposite, flagLevelComposite), 4, 5, BLACK, 9, 4, { lineStyle: { cap: 'round' } }),
  lineS('CLH cloud flag', segLine(flagCLH, flagLevelCLH), 4, 5, BLUE, 9, 4, { lineStyle: { cap: 'round' } }),
  lineS('2DS cloud flag', segLine(flag2DS, flagLevel2DS), 4, 5, RED, 9, 4, { lineStyle: { cap: 'round' } })
].concat(tickSeries);

const RICH_LEG = { t: { fontFamily: FONT, fontSize: 26 }, d: { fontFamily: FONT, fontSize: 15 }, m: { fontFamily: FONT, fontSize: 17 },
  s: { fontFamily: FONT, fontSize: 17, verticalAlign: 'bottom' } };
const txt = (x, y, text, color) => ({ type: 'text', x, y, silent: true, z: 100,
  style: { text, fill: color, fontFamily: FONT, fontSize: 26, align: 'left', verticalAlign: 'middle', rich: RICH_LEG } });
const graphic = [
  txt(154, 75, '{t|−M}{s|1}', RED), txt(154, 113, '{t|−M}{s|2}', BLUE), txt(903, 68, '{t|(a)}', BLACK),
  txt(144, 298, '{d|••}{t|rel diff}', BLUE), txt(284, 298, '{d|••}{t|NPF}', RED), txt(397, 298, '{m|−}{t|rel diff smooth}', BLACK),
  txt(634, 298, '{d|••}{t|2DS shattered particles}', GRAY), txt(898, 357, '{t|(b)}', BLACK),
  txt(142, 587, '{d|••}{t|2DS cloud flag}', RED), txt(431, 587, '{d|••}{t|CLH cloud flag}', BLUE), txt(662, 587, '{d|••}{t|composite cloud flag}', BLACK),
  txt(903, 645, '{t|(c)}', BLACK), txt(159, 670, '{m|−}{t|2DS}', RED), txt(159, 698, '{m|−}{t|CLH}', BLUE)
];
const chart = echarts.init(document.getElementById('c'), null, { renderer: 'svg', width: 1060, height: 909 });
chart.setOption({
  backgroundColor: '#ffffff', animation: false, hoverLayerThreshold: Infinity,
  title: { text: titleText, left: 538, top: 3, textAlign: 'center', textStyle: { fontFamily: FONT, fontSize: 26, fontWeight: 'normal', color: BLACK } },
  grid: [
    { left: 129, top: 35, width: 819, height: 227 },
    { left: 129, top: 323, width: 819, height: 226 },
    { left: 129, top: 612, width: 819, height: 227 },
    { left: 129, top: 323, width: 819, height: 170 }
  ],
  xAxis: xAxes, yAxis: yAxes, series, graphic
});
</script></body></html>
